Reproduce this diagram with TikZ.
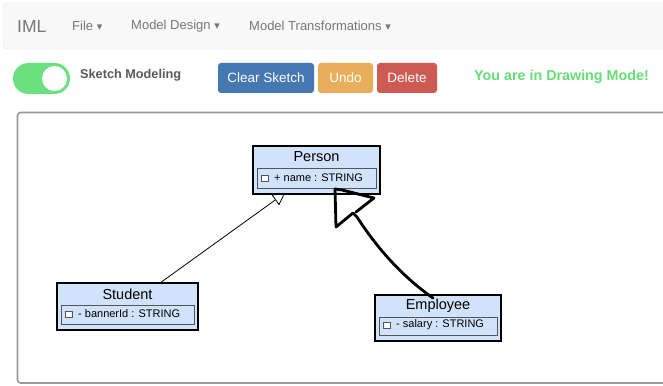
\documentclass[tikz,border=0pt]{standalone}
\usepackage{fontspec}
\setmainfont{Liberation Sans}
\newfontfamily\dejavu{DejaVu Sans}
\usetikzlibrary{arrows.meta,calc}
\definecolor{navbg}{HTML}{F8F8F8}
\definecolor{navbd}{HTML}{E4E4E4}
\definecolor{navtx}{HTML}{777777}
\definecolor{toggleg}{HTML}{6BE07E}
\definecolor{btnblue}{HTML}{4577B2}
\definecolor{btnorange}{HTML}{E9AE5B}
\definecolor{btnred}{HTML}{CD5B53}
\definecolor{modeg}{HTML}{66DD77}
\definecolor{framegray}{HTML}{9A9A9A}
\definecolor{classfill}{HTML}{D1E3FA}
\definecolor{attrbd}{HTML}{555555}
\newcommand{\caretdown}{{\dejavu\fontsize{11}{12}\selectfont ▾}}
\tikzset{
  navitem/.style={text=navtx, font=\fontsize{13}{15}\selectfont, anchor=west, inner sep=0pt},
  btn/.style={rounded corners=3pt, text=white, font=\fontsize{13.5}{16}\selectfont, align=center, inner sep=0pt},
  classbox/.style={draw=black, line width=1.6pt, fill=classfill},
  attrbox/.style={draw=attrbd, line width=0.8pt, fill=classfill},
  ctitle/.style={font=\fontsize{14.5}{17}\selectfont, inner sep=0pt},
  atext/.style={font=\fontsize{11}{13}\selectfont, inner sep=0pt, anchor=west},
  chk/.style={draw=attrbd, line width=0.6pt, fill=white, minimum size=6.5pt, inner sep=0pt},
  sketch/.style={line width=2.8pt, line cap=round, line join=round},
}
\newcommand{\umlclass}[7]{%
  \draw[classbox] (#2,#3) rectangle (#4,#5);
  \node[ctitle] (#1t) at ({(#2+#4)/2},{#3+11}) {#6};
  \draw[attrbox] ({#2+4},{#3+22}) rectangle ({#4-4},{#5-6});
  \node[chk] (#1c) at ({#2+12},{#5-15.5}) {};
  \node[atext] (#1a) at ({#2+21},{#5-16.5}) {#7};
  \coordinate (#1) at ({(#2+#4)/2},{(#3+#5)/2});
}
\begin{document}
\begin{tikzpicture}[x=1pt,y=-1pt]
\useasboundingbox (0,0) rectangle (663,385);
\fill[white] (0,0) rectangle (663,385);
% navbar
\draw[navbd, fill=navbg, rounded corners=4pt] (3,3) rectangle (672,49);
\node[text=navtx, font=\fontsize{17.5}{20}\selectfont, inner sep=0pt, anchor=west] (iml) at (17,26) {IML};
\node[navitem] (file) at (72,26) {File \caretdown};
\node[navitem] (design) at (131,26) {Model Design \caretdown};
\node[navitem] (trans) at (249,26) {Model Transformations \caretdown};
% toggle
\fill[toggleg, rounded corners=15.5pt] (13,63) rectangle (70,94);
\node[circle, fill=white, minimum size=25pt, inner sep=0pt] (knob) at (54.5,78.5) {};
\node[text=black!65, font=\bfseries\fontsize{12.7}{15}\selectfont, anchor=west, inner sep=0pt] (sketchlbl) at (80,75) {Sketch Modeling};
% buttons
\node[btn, fill=btnblue, minimum width=96pt, minimum height=30pt] (clear) at (266,78) {Clear Sketch};
\node[btn, fill=btnorange, minimum width=55pt, minimum height=30pt] (undo) at (345.5,78) {Undo};
\node[btn, fill=btnred, minimum width=60pt, minimum height=30pt] (delete) at (407,78) {Delete};
\node[text=modeg, font=\bfseries\fontsize{14.3}{17}\selectfont, inner sep=0pt] (mode) at (561.5,77) {You are in Drawing Mode!};
% canvas frame
\draw[framegray, line width=1.6pt, rounded corners=3pt] (17.5,112.5) rectangle (680,383);
% classes
\umlclass{person}{253}{146}{380}{194}{Person}{+ name : STRING}
\umlclass{student}{57}{283}{198}{330}{Student}{- bannerId : STRING}
\umlclass{employee}{375}{295}{501}{341}{Employee}{- salary : STRING}
% generalization Student -> Person
\coordinate (stop) at (160,283);
\coordinate (ptip) at (285,193);
\draw[line width=0.8pt, -{Triangle[open, length=12pt, width=13pt]}] (stop) -- (ptip);
% hand-drawn sketch arrow from Employee to Person
\coordinate (etop) at (433,298);
\draw[sketch] (etop) .. controls (400,275) and (375,245) .. (357,217)
  -- (353,213) -- (336,227) -- (335,189) -- (342,190) -- (374,198) -- (356,212);
\end{tikzpicture}
\end{document}
